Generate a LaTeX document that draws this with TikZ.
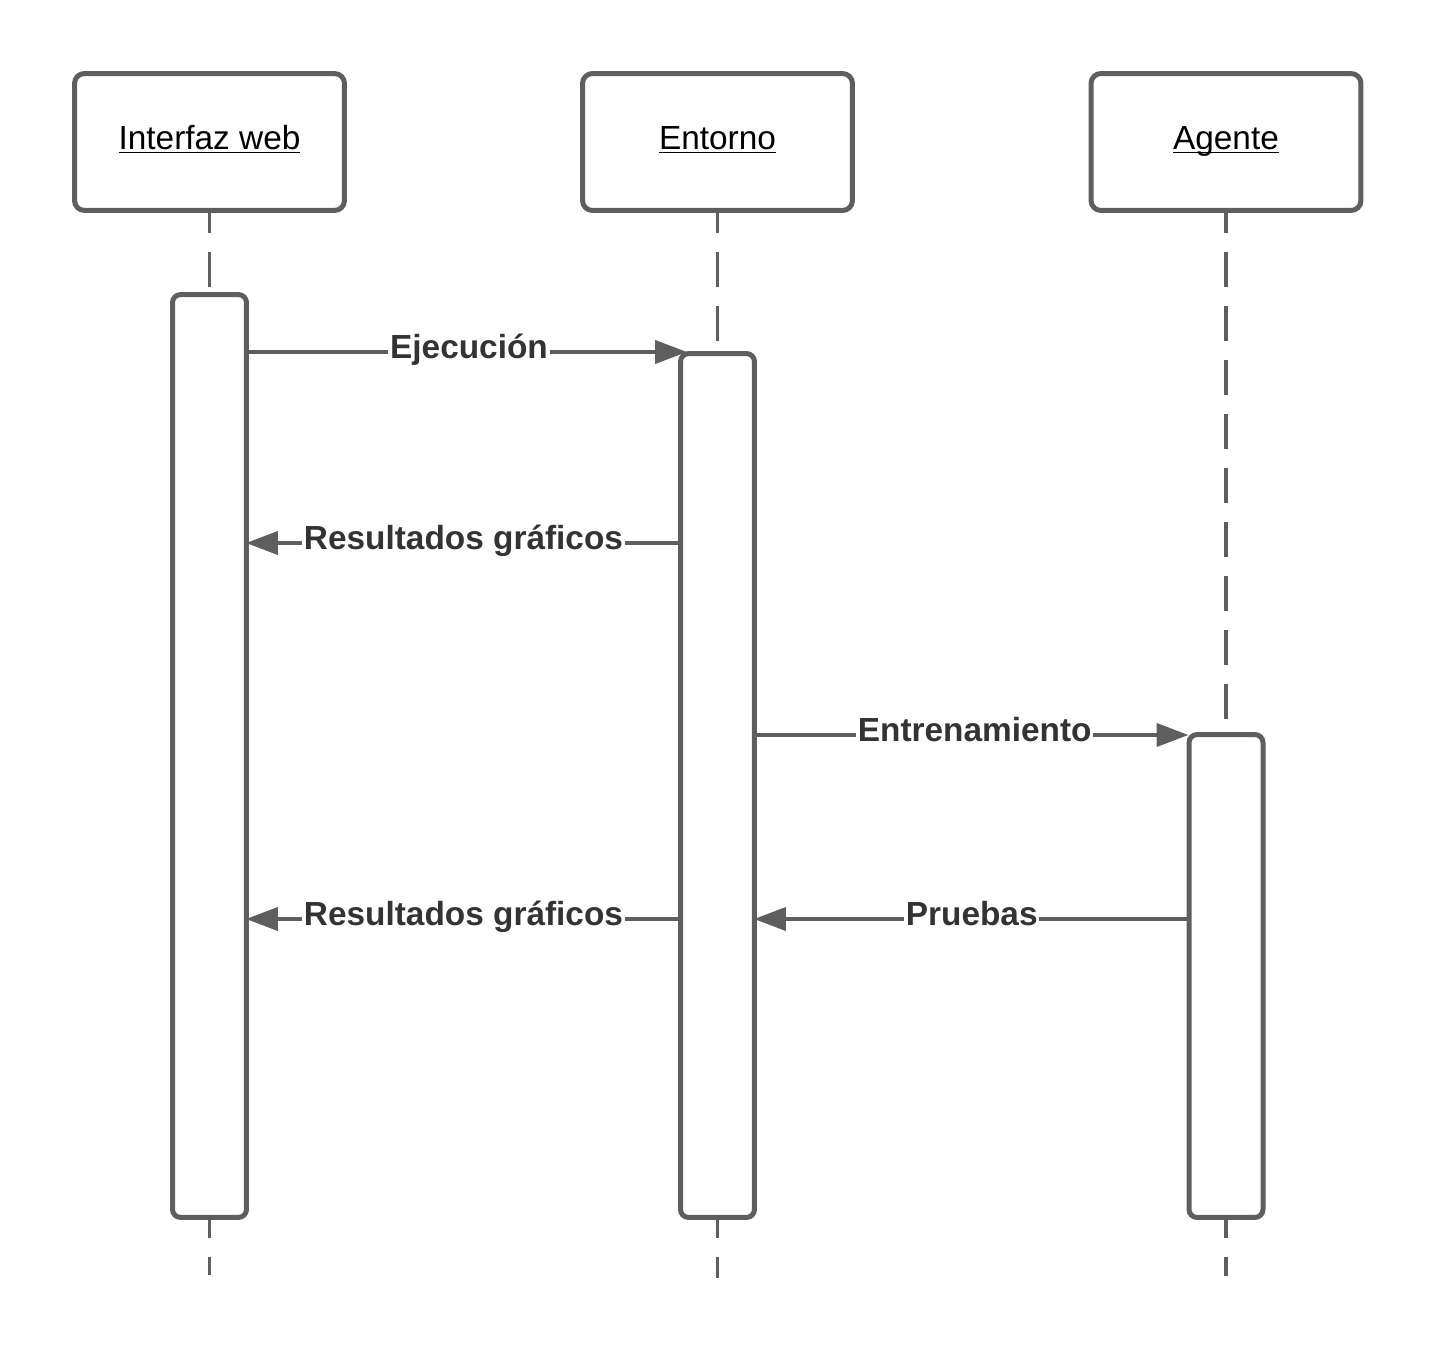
\documentclass[tikz,border=0pt]{standalone}
\usepackage{fontspec}
\setmainfont{Liberation Sans}
\usetikzlibrary{arrows.meta}
\definecolor{linegray}{HTML}{5E5E5E}
\definecolor{labelgray}{HTML}{333333}
\newcommand{\actorname}[1]{\underline{\smash{#1}\vphantom{I}}}

\begin{document}
\begin{tikzpicture}[x=0.02cm,y=-0.02cm]
%\draw[help lines] (0,0) grid (1438,1356);
\tikzstyle{actor} = [draw=linegray, line width=0.1cm, rounded corners=0.2cm, fill=white, minimum width=5.4cm, minimum height=2.74cm, inner sep=0pt, text height=13pt, text depth=3.9pt, font=\fontsize{19}{23}\selectfont]
\tikzstyle{activation} = [draw=linegray, line width=0.1cm, rounded corners=0.16cm, fill=white, minimum width=1.48cm, inner sep=0pt]
\tikzstyle{lifeline} = [draw=linegray, line width=0.07cm, dash pattern=on 0.7cm off 0.38cm, dash phase=0.3cm]
\tikzstyle{lifeend} = [draw=linegray, line width=0.07cm, dash pattern=on 0.7cm off 0.38cm, dash phase=0.34cm]
\tikzstyle{msg} = [draw=linegray, line width=0.08cm, -{Triangle[length=0.64cm,width=0.46cm]}]
\tikzstyle{msglabel} = [fill=white, inner sep=1pt, text=labelgray, font=\bfseries\fontsize{19}{23}\selectfont, anchor=base, yshift=-0.12cm]

\useasboundingbox (0,0) rectangle (1438,1356);

% actors
\node[actor] (iface) at (209.5,142) {\actorname{Interfaz web}};
\node[actor] (entorno) at (717.5,142) {\actorname{Entorno}};
\node[actor] (agente) at (1226,142) {\actorname{Agente}};

% activations
\node[activation, minimum height=18.46cm] (act-iface) at (209.5,756) {};
\node[activation, minimum height=17.28cm] (act-entorno) at (717.5,785.5) {};
\node[activation, minimum height=9.66cm] (act-agente) at (1226,976) {};

% lifelines
\coordinate (iface-end) at (209.5,1275);
\coordinate (entorno-end) at (717.5,1278);
\coordinate (agente-end) at (1226,1276);
\draw[lifeline] (iface.south) -- (act-iface.north);
\draw[lifeline] (entorno.south) -- (act-entorno.north);
\draw[lifeline] (agente.south) -- (act-agente.north);
\draw[lifeend] (act-iface.south) -- (iface-end);
\draw[lifeend] (act-entorno.south) -- (entorno-end);
\draw[lifeend] (act-agente.south) -- (agente-end);

% messages
\coordinate (m1) at (0,352);
\coordinate (m2) at (0,543);
\coordinate (m3) at (0,735);
\coordinate (m4) at (0,919);

\draw[msg, shorten >=-0.18cm] (act-iface.east |- m1) -- node[msglabel, xshift=0.11cm] {Ejecución} (act-entorno.west |- m1);
\draw[msg, shorten >=-0.06cm] (act-entorno.west |- m2) -- node[msglabel] {Resultados gráficos} (act-iface.east |- m2);
\draw[msg, shorten >=-0.04cm] (act-entorno.east |- m3) -- node[msglabel, xshift=0.06cm] {Entrenamiento} (act-agente.west |- m3);
\draw[msg, shorten >=-0.06cm] (act-entorno.west |- m4) -- node[msglabel] {Resultados gráficos} (act-iface.east |- m4);
\draw[msg, shorten >=-0.06cm] (act-agente.west |- m4) -- node[msglabel] {Pruebas} (act-entorno.east |- m4);
\end{tikzpicture}
\end{document}
